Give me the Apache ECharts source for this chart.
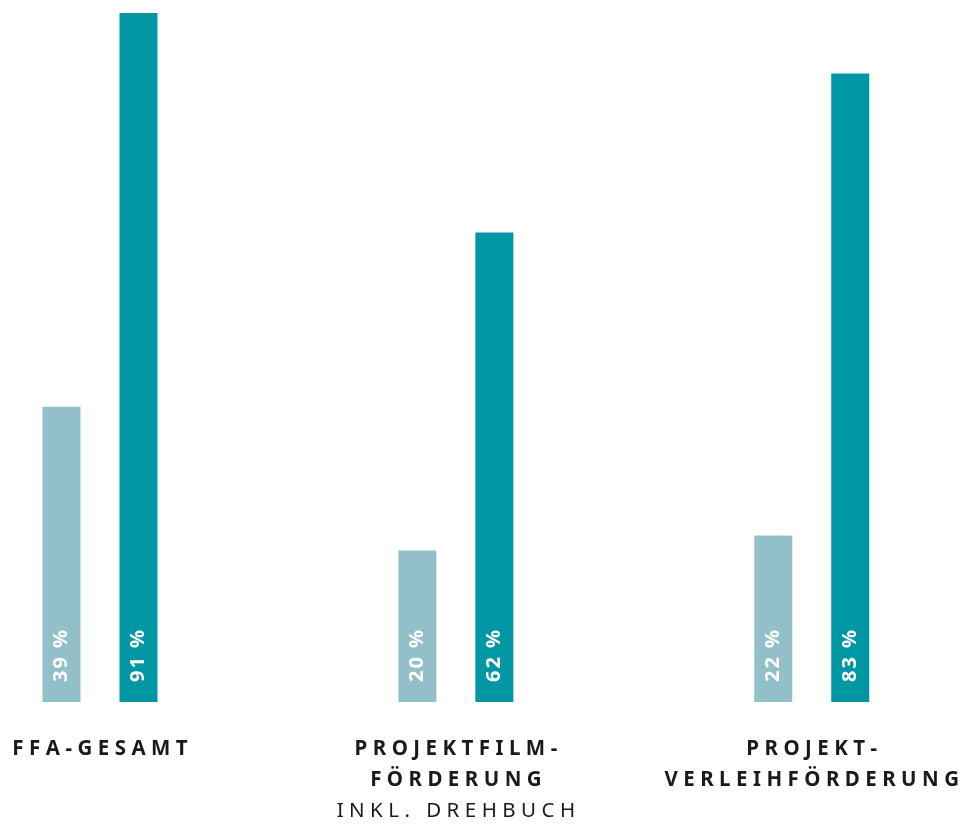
<!DOCTYPE html>
<html>
<head>
<meta charset="utf-8">
<script src="https://cdn.jsdelivr.net/npm/echarts@6/dist/echarts.min.js"></script>
<style>
  html, body { margin: 0; padding: 0; background: #ffffff; }
  #chart { width: 962px; height: 824px; }
</style>
</head>
<body>
<div id="chart"></div>
<script>
// Funding categories: bold title lines plus an optional regular sub line
const categoryTitles = [
  ['FFA-GESAMT'],
  ['PROJEKTFILM-', 'FÖRDERUNG'],
  ['PROJEKT-', 'VERLEIHFÖRDERUNG']
];
const categorySubs = ['', 'INKL. DREHBUCH', ''];

// Shares in percent
const lightValues = [39, 20, 22];
const darkValues = [91, 62, 83];

const LIGHT = '#93c0c8';
const DARK = '#0097a5';
const FONT = '"Noto Sans", "Open Sans", sans-serif';

// widen tracking by putting narrow spaces between characters
const WIDE = '\u2009\u200A';
function track(s, sep) {
  return Array.from(s).join(sep);
}

const categories = categoryTitles.map((t, i) => String(i));

const chart = echarts.init(document.getElementById('chart'), null, { renderer: 'canvas' });

function barLabel() {
  return {
    show: true,
    position: 'insideBottom',
    rotate: 90,
    align: 'left',
    verticalAlign: 'middle',
    distance: 20,
    color: '#ffffff',
    fontFamily: FONT,
    fontWeight: 'bold',
    fontSize: 20,
    formatter: p => track(p.value + ' %', '\u200A')
  };
}

chart.setOption({
  animation: false,
  grid: { left: 100, right: 150, top: 13, bottom: 122, containLabel: false },
  xAxis: {
    type: 'category',
    data: categories,
    boundaryGap: false,
    axisLine: { show: false },
    axisTick: { show: false },
    splitLine: { show: false },
    axisLabel: {
      margin: 32,
      interval: 0,
      verticalAlign: 'top',
      formatter: (v, idx) => {
        const lines = categoryTitles[idx].map(l => '{b|' + track(l, WIDE) + '}');
        if (categorySubs[idx]) lines.push('{n|' + track(categorySubs[idx], WIDE) + '}');
        return lines.join('\n');
      },
      rich: {
        b: { fontFamily: FONT, fontWeight: 'bold', fontSize: 20.5, color: '#1a1a1a', lineHeight: 31 },
        n: { fontFamily: FONT, fontWeight: 'normal', fontSize: 20.5, color: '#1a1a1a', lineHeight: 31 }
      }
    }
  },
  yAxis: {
    type: 'value',
    min: 0,
    max: 'dataMax',
    show: false,
    splitLine: { show: false }
  },
  series: [
    {
      type: 'bar',
      data: lightValues,
      barWidth: 38,
      barGap: '102.6%',
      itemStyle: { color: LIGHT },
      label: barLabel()
    },
    {
      type: 'bar',
      data: darkValues,
      barWidth: 38,
      itemStyle: { color: DARK },
      label: barLabel()
    }
  ]
});
</script>
</body>
</html>
